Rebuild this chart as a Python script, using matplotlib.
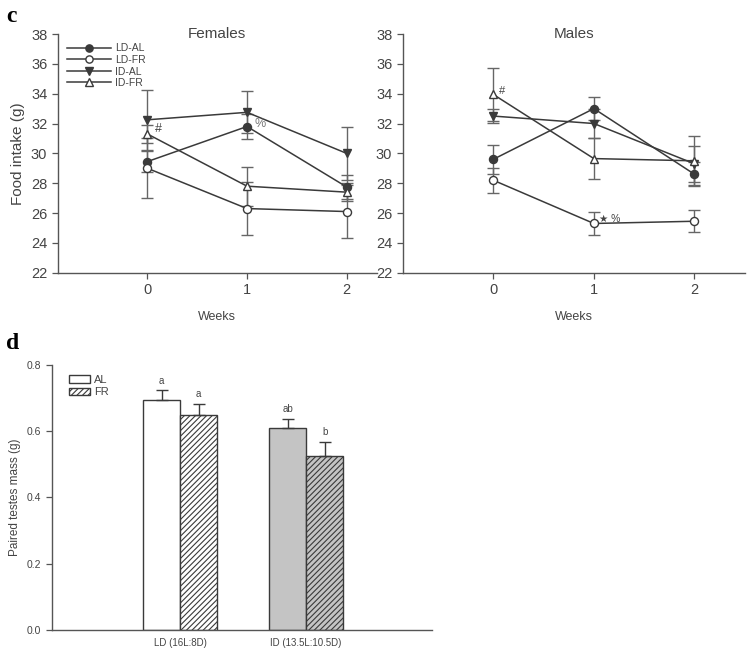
import numpy as np
import matplotlib
matplotlib.use("Agg")
import matplotlib.pyplot as plt

plt.rcParams["font.family"] = ["Liberation Sans", "DejaVu Sans"]
plt.rcParams["hatch.linewidth"] = 0.8

# ── Food intake (g) by week ──────────────────────────────────────────────────
weeks = [0, 1, 2]
groups = ["LD-AL", "LD-FR", "ID-AL", "ID-FR"]

fem_mean = {"LD-AL": [29.45, 31.8, 27.75],
            "LD-FR": [29.0, 26.3, 26.1],
            "ID-AL": [32.25, 32.75, 30.0],
            "ID-FR": [31.3, 27.8, 27.4]}
fem_err = {"LD-AL": [0.7, 0.85, 0.8],
           "LD-FR": [2.0, 1.8, 1.8],
           "ID-AL": [2.0, 1.4, 1.8],
           "ID-FR": [0.6, 1.3, 0.6]}

male_mean = {"LD-AL": [29.6, 33.0, 28.6],
             "LD-FR": [28.2, 25.3, 25.45],
             "ID-AL": [32.5, 32.0, 29.3],
             "ID-FR": [33.95, 29.65, 29.5]}
male_err = {"LD-AL": [0.95, 0.75, 0.8],
            "LD-FR": [0.85, 0.8, 0.75],
            "ID-AL": [0.45, 1.0, 1.2],
            "ID-FR": [1.8, 1.4, 1.65]}

# ── Paired testes mass (g) ──────────────────────────────────────────────────
photoperiods = ["LD (16L:8D)", "ID (13.5L:10.5D)"]
testes_al = [0.695, 0.610]
testes_al_err = [0.028, 0.028]
testes_fr = [0.648, 0.526]
testes_fr_err = [0.035, 0.042]
letters_al = ["a", "ab"]
letters_fr = ["a", "b"]

LINE = "#3a3a3a"
AXC = "#555555"
TXT = "#444444"

styles = {"LD-AL": dict(marker="o", mfc=LINE),
          "LD-FR": dict(marker="o", mfc="white"),
          "ID-AL": dict(marker="v", mfc=LINE),
          "ID-FR": dict(marker="^", mfc="white")}


def style_axes(ax, fs):
    for s in ["top", "right"]:
        ax.spines[s].set_visible(False)
    for s in ["left", "bottom"]:
        ax.spines[s].set_color(AXC)
        ax.spines[s].set_linewidth(1.0)
    ax.tick_params(colors=AXC, labelcolor=TXT, labelsize=fs,
                   direction="out", length=4, width=0.9)


def intake_panel(ax, means, errs, title, xmax):
    handles = []
    for g in groups:
        st = styles[g]
        ax.errorbar(weeks, means[g], yerr=errs[g], fmt="none",
                    ecolor="#666666", elinewidth=1.0, capsize=4,
                    capthick=1.0, zorder=2)
        ln, = ax.plot(weeks, means[g], color=LINE, lw=1.1,
                      marker=st["marker"], mfc=st["mfc"], mec=LINE, ms=5.8,
                      label=g, zorder=3)
        handles.append(ln)
    ax.set_xlim(-0.9, xmax)
    ax.set_ylim(22, 38)
    ax.set_yticks(np.arange(22, 39, 2))
    ax.set_xticks(weeks)
    style_axes(ax, 10.5)
    ax.text(0.5, 1.0, title, transform=ax.transAxes, ha="center",
            va="center", fontsize=11, color=TXT)
    ax.set_xlabel("Weeks", fontsize=9, color=TXT, labelpad=10)
    return handles


fig = plt.figure(figsize=(7.5, 6.54), dpi=100)

ax1 = fig.add_axes([0.077, 0.583, 0.425, 0.365])
hs = intake_panel(ax1, fem_mean, fem_err, "Females", 2.3)
ax1.set_ylabel("Food intake (g)", fontsize=11, color=TXT)
leg = ax1.legend(handles=hs, loc="upper left", bbox_to_anchor=(0.0, 1.0),
                 frameon=False, fontsize=7.5, handlelength=4.2,
                 labelspacing=0.15, handletextpad=0.4, markerscale=0.9)
for t in leg.get_texts():
    t.set_color(TXT)
ax1.text(0.08, fem_mean["ID-FR"][0] + 0.1, "#", fontsize=9, color=TXT)
ax1.text(1.08, fem_mean["LD-AL"][1] + 0.2, "%", fontsize=9, color="#777777",
         va="center")

ax2 = fig.add_axes([0.537, 0.583, 0.456, 0.365])
intake_panel(ax2, male_mean, male_err, "Males", 2.5)
ax2.text(0.06, male_mean["ID-FR"][0] + 0.0, "#", fontsize=8, color=TXT)
ax2.text(1.05, male_mean["LD-FR"][1] + 0.1, "\u2605 %", fontsize=7.5,
         color=TXT)

# ── Testes bar chart ────────────────────────────────────────────────────────
ax3 = fig.add_axes([0.069, 0.037, 0.507, 0.405])
x = np.arange(len(photoperiods))
w = 0.295
ekw = dict(ecolor=LINE, elinewidth=1.0, capsize=4, capthick=1.0)
ax3.bar(x - w / 2, testes_al, w, yerr=[[0, 0], testes_al_err],
        color=["white", "#c4c4c4"], edgecolor=LINE, lw=1.0,
        error_kw=ekw, label="AL", zorder=2)
ax3.bar(x + w / 2, testes_fr, w, yerr=[[0, 0], testes_fr_err],
        color=["white", "#c4c4c4"], edgecolor=LINE, lw=1.0, hatch="//////",
        error_kw=ekw, label="FR", zorder=2)
for i in range(len(photoperiods)):
    ax3.text(x[i] - w / 2, testes_al[i] + testes_al_err[i] + 0.02,
             letters_al[i], ha="center", fontsize=7, color=TXT)
    ax3.text(x[i] + w / 2, testes_fr[i] + testes_fr_err[i] + 0.02,
             letters_fr[i], ha="center", fontsize=7, color=TXT)
ax3.set_xlim(-1.02, 2.0)
ax3.set_ylim(0, 0.8)
ax3.set_yticks(np.arange(0, 0.81, 0.2))
ax3.set_yticklabels([f"{v:.1f}" for v in np.arange(0, 0.81, 0.2)])
ax3.set_xticks(x)
ax3.set_xticklabels(photoperiods)
style_axes(ax3, 7.5)
ax3.tick_params(axis="x", length=0, labelsize=7, pad=6)
ax3.set_ylabel("Paired testes mass (g)", fontsize=8.5, color=TXT)
leg3 = ax3.legend(loc="upper left", bbox_to_anchor=(0.02, 1.0), frameon=False,
                  fontsize=8, handlelength=1.9, handleheight=0.6,
                  labelspacing=0.2, handletextpad=0.3)
for t in leg3.get_texts():
    t.set_color(TXT)
for p in leg3.get_patches():
    p.set_facecolor("white")

fig.text(0.008, 0.975, "c", fontsize=17, fontweight="bold",
         family="Liberation Serif", va="center")
fig.text(0.008, 0.475, "d", fontsize=17, fontweight="bold",
         family="Liberation Serif", va="center")

plt.savefig("out.png", dpi=100)
plt.close()
